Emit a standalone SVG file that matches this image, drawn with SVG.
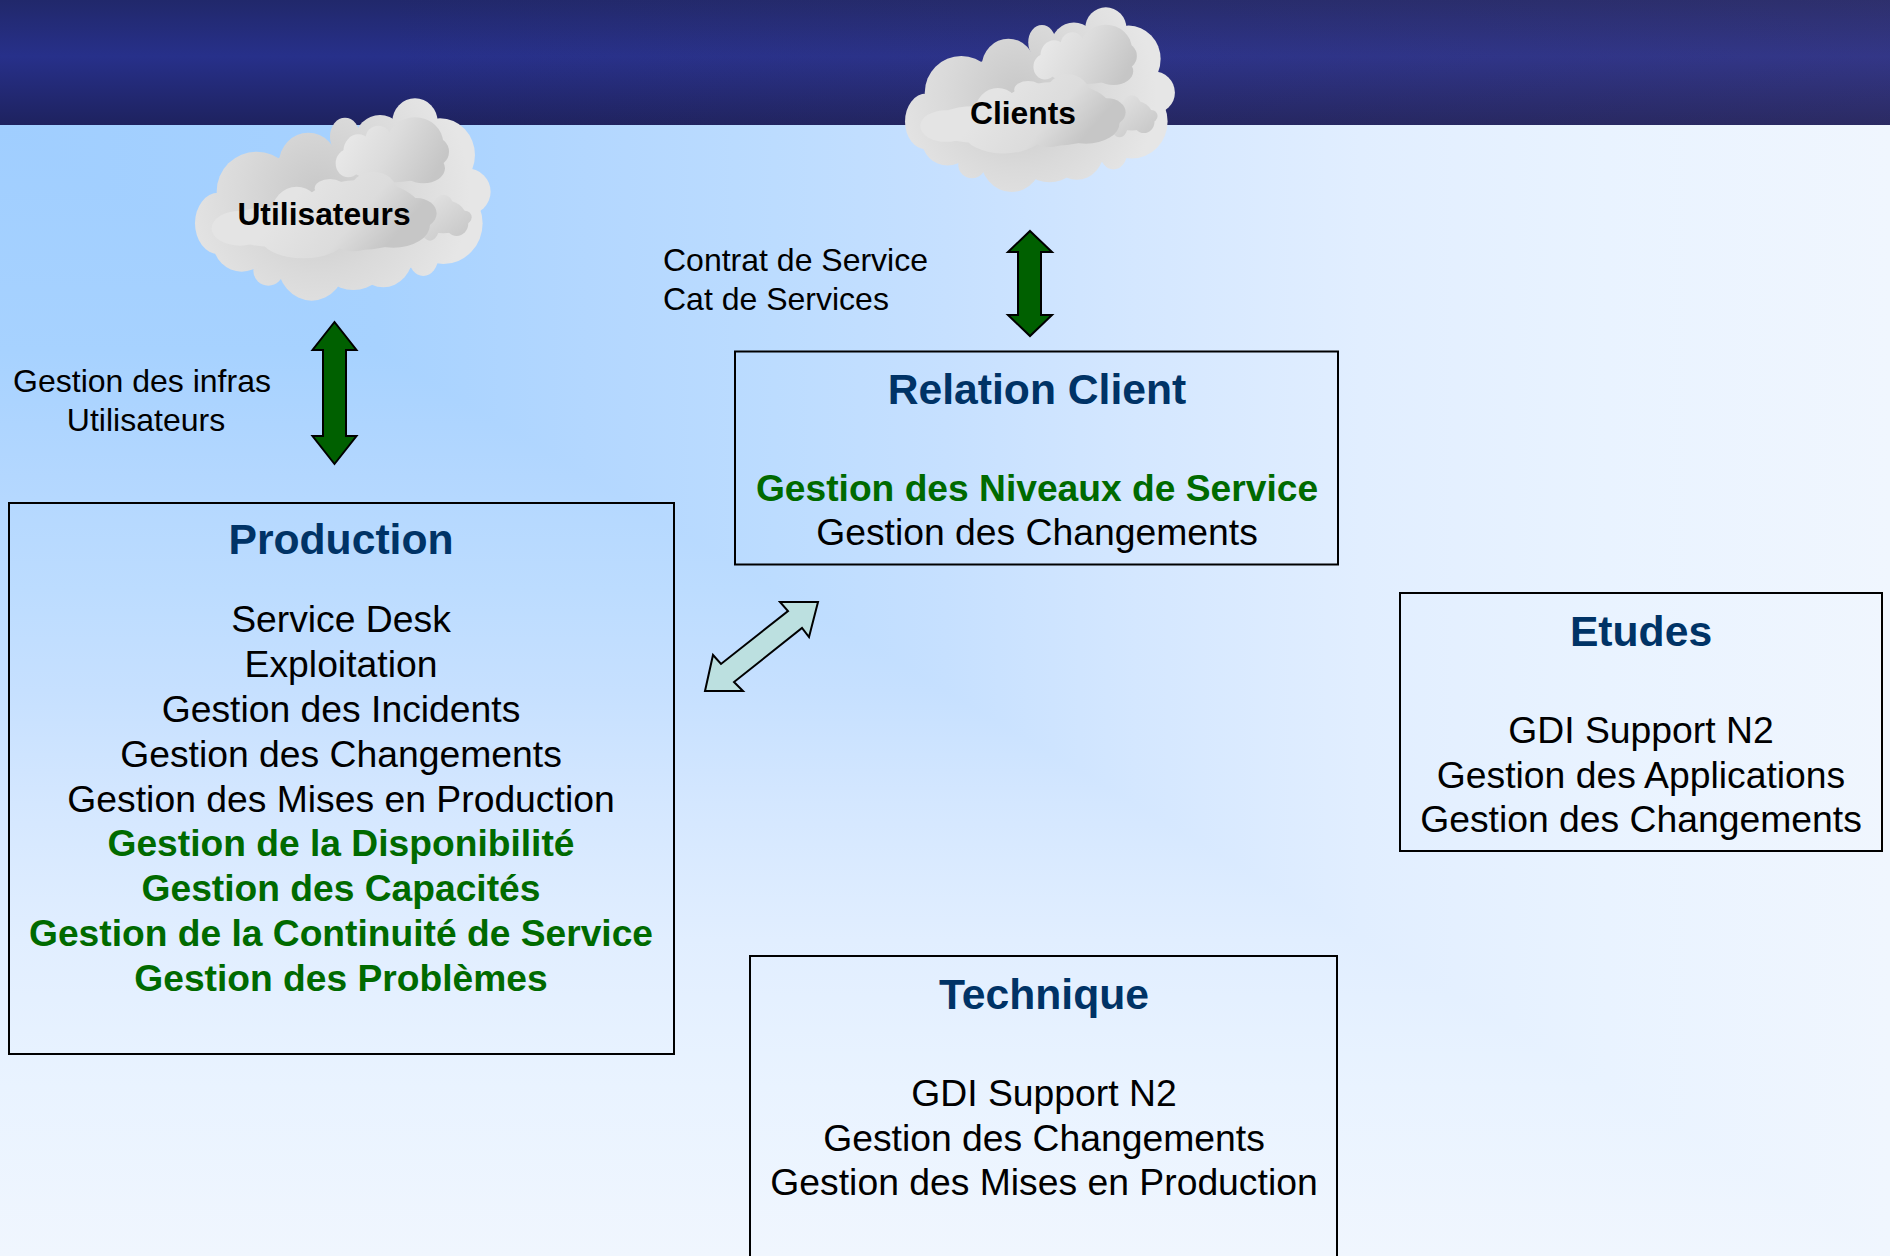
<svg xmlns="http://www.w3.org/2000/svg" width="1890" height="1256" viewBox="0 0 1890 1256">
<defs>
<linearGradient id="bgv" x1="0" y1="125" x2="0" y2="1256" gradientUnits="userSpaceOnUse"><stop offset="0" stop-color="#a0ceff"/><stop offset="0.2" stop-color="#a7d2ff"/><stop offset="0.31" stop-color="#b3d7ff"/><stop offset="0.41" stop-color="#bcdcff"/><stop offset="0.5" stop-color="#c6e0ff"/><stop offset="0.6" stop-color="#d4e7ff"/><stop offset="0.72" stop-color="#e1eeff"/><stop offset="0.85" stop-color="#e9f3ff"/><stop offset="1" stop-color="#f0f6fe"/></linearGradient>
<linearGradient id="bgh" x1="0" y1="0" x2="1890" y2="0" gradientUnits="userSpaceOnUse"><stop offset="0" stop-color="#a0ceff"/><stop offset="0.2" stop-color="#a7d2ff"/><stop offset="0.31" stop-color="#b3d7ff"/><stop offset="0.41" stop-color="#bcdcff"/><stop offset="0.5" stop-color="#c6e0ff"/><stop offset="0.6" stop-color="#d4e7ff"/><stop offset="0.72" stop-color="#e1eeff"/><stop offset="0.85" stop-color="#e9f3ff"/><stop offset="1" stop-color="#f0f6fe"/></linearGradient>
<linearGradient id="band" x1="0" y1="0" x2="0" y2="125" gradientUnits="userSpaceOnUse"><stop offset="0" stop-color="#21286b"/><stop offset="0.45" stop-color="#27308a"/><stop offset="1" stop-color="#1e225f"/></linearGradient>
<linearGradient id="bandh" x1="0" y1="0" x2="1890" y2="0" gradientUnits="userSpaceOnUse"><stop offset="0.2" stop-color="#725876" stop-opacity="0"/><stop offset="1" stop-color="#725876" stop-opacity="0.16"/></linearGradient>
<radialGradient id="cb" gradientUnits="userSpaceOnUse" cx="480" cy="340" r="450"><stop offset="0" stop-color="#c8c8c8"/><stop offset="0.55" stop-color="#dadada"/><stop offset="1" stop-color="#e6e6e6"/></radialGradient>
<linearGradient id="c1" gradientUnits="userSpaceOnUse" x1="560" y1="170" x2="810" y2="310"><stop offset="0" stop-color="#e8e8e8"/><stop offset="0.45" stop-color="#dcdcdc"/><stop offset="1" stop-color="#c6c6c6"/></linearGradient>
<linearGradient id="c2" gradientUnits="userSpaceOnUse" x1="430" y1="320" x2="660" y2="520"><stop offset="0" stop-color="#e4e4e4"/><stop offset="0.6" stop-color="#dcdcdc"/><stop offset="1" stop-color="#c6c6c6"/></linearGradient>
<linearGradient id="c3" gradientUnits="userSpaceOnUse" x1="800" y1="350" x2="900" y2="480"><stop offset="0" stop-color="#e2e2e2"/><stop offset="1" stop-color="#c8c8c8"/></linearGradient>
<g id="cloud">
<g fill="url(#cb)">
<ellipse cx="550" cy="400" rx="350" ry="200"/>
<ellipse cx="175" cy="430" rx="70" ry="92"/><circle cx="290" cy="335" r="120"/><ellipse cx="445" cy="250" rx="88" ry="92"/>
<circle cx="245" cy="490" r="85"/><circle cx="325" cy="572" r="45"/><ellipse cx="455" cy="540" rx="105" ry="122"/>
<ellipse cx="580" cy="540" rx="100" ry="90"/><ellipse cx="670" cy="520" rx="90" ry="102"/><ellipse cx="790" cy="530" rx="45" ry="58"/>
<ellipse cx="850" cy="430" rx="118" ry="122"/><ellipse cx="920" cy="335" rx="72" ry="70"/><ellipse cx="840" cy="225" rx="105" ry="110"/>
<ellipse cx="765" cy="125" rx="68" ry="70"/><circle cx="660" cy="180" r="75"/><ellipse cx="555" cy="170" rx="45" ry="57"/>
</g>
<g fill="url(#c1)">
<ellipse cx="700" cy="235" rx="150" ry="72"/><ellipse cx="765" cy="190" rx="85" ry="78"/><circle cx="655" cy="175" r="38"/><ellipse cx="595" cy="215" rx="45" ry="52"/><ellipse cx="565" cy="250" rx="38" ry="42"/><ellipse cx="820" cy="215" rx="47" ry="45"/><ellipse cx="790" cy="265" rx="65" ry="45"/>
</g>
<g fill="url(#c3)">
<ellipse cx="850" cy="410" rx="68" ry="50"/><ellipse cx="890" cy="430" rx="35" ry="38"/><circle cx="915" cy="412" r="20"/><ellipse cx="810" cy="430" rx="30" ry="52"/><circle cx="850" cy="372" r="28"/>
</g>
<g fill="url(#c2)">
<ellipse cx="240" cy="445" rx="85" ry="52"/><ellipse cx="410" cy="400" rx="75" ry="80"/><ellipse cx="330" cy="440" rx="130" ry="60"/>
<ellipse cx="430" cy="470" rx="130" ry="65"/>
<ellipse cx="600" cy="405" rx="190" ry="105"/><ellipse cx="640" cy="335" rx="70" ry="60"/><ellipse cx="510" cy="325" rx="46" ry="28"/><ellipse cx="700" cy="435" rx="110" ry="68"/><ellipse cx="770" cy="400" rx="60" ry="46"/><ellipse cx="580" cy="470" rx="70" ry="44"/>
</g>
</g>
</defs>
<style>
text{font-family:"Liberation Sans",Arial,sans-serif;text-anchor:middle}
.box{fill:none;stroke:#000;stroke-width:2}
.t{font-size:42.67px;font-weight:700;fill:#003366}
.l{font-size:37.3px;fill:#000}
.g{font-size:37.2px;font-weight:700;fill:#006a00}
.s{font-size:32px;fill:#000}
.c{font-size:31.8px;font-weight:700;fill:#000}
.big{fill:#006000;stroke:#000;stroke-width:2}
.st{text-anchor:start}
</style>
<g id="background">
<rect width="1890" height="1256" fill="url(#bgv)"/>
<polygon points="0,125 1890,125 1890,1256" fill="url(#bgh)"/>
<rect width="1890" height="125" fill="url(#band)"/>
<rect width="1890" height="125" fill="url(#bandh)"/>
</g>
<g id="node-utilisateurs">
<use href="#cloud" transform="translate(160 80) scale(0.3333)"/>
<text class="c" x="324" y="225">Utilisateurs</text>
</g>
<g id="node-clients">
<use href="#cloud" transform="translate(873.05 -9.4) scale(0.3043)"/>
<text class="c" x="1023" y="124">Clients</text>
</g>
<g id="label-infras">
<text class="s" x="142" y="392">Gestion des infras</text>
<text class="s" x="146" y="431">Utilisateurs</text>
</g>
<g id="label-contrat">
<text class="s st" x="663" y="271">Contrat de Service</text>
<text class="s st" x="663" y="310">Cat de Services</text>
</g>
<g id="connectors">
<polygon class="big" points="334.500,322 356.500,350 346,350 346,436 356.500,436 334.500,464 312.500,436 323,436 323,350 312.500,350"/>
<polygon class="big" points="1030,231 1052,252 1041,252 1041,315 1052,315 1030,336 1008,315 1018,315 1018,252 1008,252"/>
<polygon points="818,602 780,602 788,611 721,664 713,655 705,691 743,691 734,682 802,628 809,637" fill="#bce0e0" stroke="#000" stroke-width="2"/>
</g>
<g id="node-production">
<rect class="box" x="9" y="503" width="665" height="551"/>
<text class="t" x="341" y="554">Production</text>
<text class="l" x="341" y="632">Service Desk</text>
<text class="l" x="341" y="677">Exploitation</text>
<text class="l" x="341" y="722">Gestion des Incidents</text>
<text class="l" x="341" y="767">Gestion des Changements</text>
<text class="l" x="341" y="812">Gestion des Mises en Production</text>
<text class="g" x="341" y="856">Gestion de la Disponibilité</text>
<text class="g" x="341" y="901">Gestion des Capacités</text>
<text class="g" x="341" y="946">Gestion de la Continuité de Service</text>
<text class="g" x="341" y="991">Gestion des Problèmes</text>
</g>
<g id="node-relation-client">
<rect class="box" x="735" y="351.500" width="603" height="213"/>
<text class="t" x="1037" y="404">Relation Client</text>
<text class="g" x="1037" y="501">Gestion des Niveaux de Service</text>
<text class="l" x="1037" y="545">Gestion des Changements</text>
</g>
<g id="node-etudes">
<rect class="box" x="1400" y="593" width="482" height="258"/>
<text class="t" x="1641" y="646">Etudes</text>
<text class="l" x="1641" y="743">GDI Support N2</text>
<text class="l" x="1641" y="788">Gestion des Applications</text>
<text class="l" x="1641" y="832">Gestion des Changements</text>
</g>
<g id="node-technique">
<rect class="box" x="750" y="956" width="587" height="320"/>
<text class="t" x="1044" y="1009">Technique</text>
<text class="l" x="1044" y="1106">GDI Support N2</text>
<text class="l" x="1044" y="1151">Gestion des Changements</text>
<text class="l" x="1044" y="1195">Gestion des Mises en Production</text>
</g>
</svg>
